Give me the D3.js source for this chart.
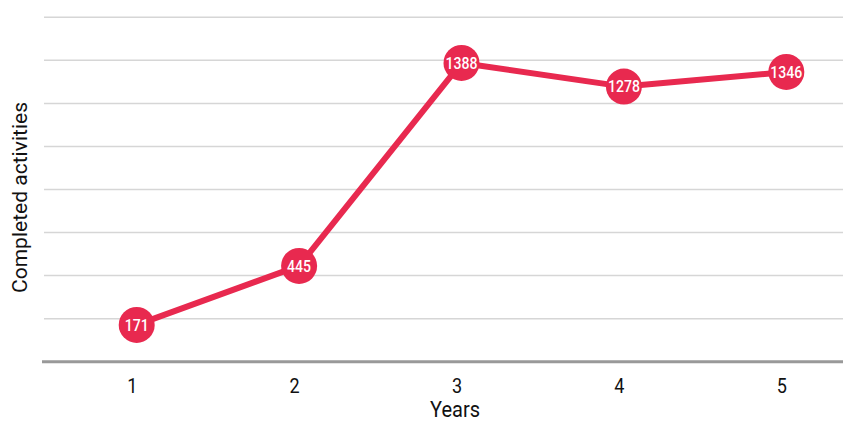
<!DOCTYPE html>
<html>
<head>
<meta charset="utf-8">
<script src="https://cdn.jsdelivr.net/npm/d3@7"></script>
<style>
  body { margin: 0; background: #fff; }
  text { font-family: Roboto, "Liberation Sans", sans-serif; }
</style>
</head>
<body>
<div id="chart"></div>
<script>
var years = [1, 2, 3, 4, 5];
var activities = [171, 445, 1388, 1278, 1346];
var gridTicks = [0, 200, 400, 600, 800, 1000, 1200, 1400, 1600];

var width = 843, height = 423;
var red = "#e8294f";

var svg = d3.select("#chart").append("svg")
    .attr("width", width)
    .attr("height", height);

var x = d3.scaleLinear()
    .domain([1, 5])
    .range([136.7, 786.3]);

var y = d3.scaleLinear()
    .domain([0, 1600])
    .range([361.7, 17.3]);

// gridlines
svg.append("g")
    .selectAll("line")
    .data(gridTicks.slice(1))
    .enter().append("line")
    .attr("x1", 44)
    .attr("x2", width)
    .attr("y1", function(d) { return y(d); })
    .attr("y2", function(d) { return y(d); })
    .attr("stroke", "#d6d6d6")
    .attr("stroke-width", 1.5);

// baseline
svg.append("line")
    .attr("x1", 42)
    .attr("x2", width)
    .attr("y1", y(0))
    .attr("y2", y(0))
    .attr("stroke", "#999")
    .attr("stroke-width", 3);

// x axis labels (slightly narrow, like a condensed face)
var xAxis = svg.append("g")
    .attr("transform", "translate(0," + y(0) + ")")
    .call(d3.axisBottom(x).tickValues(years).tickSize(0).tickPadding(0).tickFormat(d3.format("d")));
xAxis.select(".domain").remove();
xAxis.selectAll(".tick text")
    .attr("x", 0)
    .attr("y", 0)
    .attr("dy", 0)
    .attr("transform", "translate(-5,31) scale(0.86,1)")
    .attr("fill", "#111")
    .style("font-family", "Roboto, sans-serif")
    .style("font-size", "21px");

svg.append("text")
    .attr("x", 455)
    .attr("y", 417)
    .attr("text-anchor", "middle")
    .attr("textLength", 50)
    .attr("lengthAdjust", "spacingAndGlyphs")
    .attr("fill", "#111")
    .style("font-size", "22px")
    .text("Years");

svg.append("text")
    .attr("transform", "translate(27,197.5) rotate(-90)")
    .attr("x", -95.5)
    .attr("textLength", 191)
    .attr("lengthAdjust", "spacingAndGlyphs")
    .attr("fill", "#111")
    .style("font-size", "20px")
    .text("Completed activities");

// line
var line = d3.line()
    .x(function(d, i) { return x(years[i]); })
    .y(function(d) { return y(d); });

svg.append("path")
    .datum(activities)
    .attr("d", line)
    .attr("fill", "none")
    .attr("stroke", red)
    .attr("stroke-width", 6)
    .attr("stroke-linejoin", "round");

var pts = svg.append("g")
    .selectAll("g")
    .data(activities)
    .enter().append("g")
    .attr("transform", function(d, i) { return "translate(" + x(years[i]) + "," + y(d) + ")"; });

pts.append("circle")
    .attr("r", 18)
    .attr("fill", red);

pts.append("text")
    .attr("text-anchor", "middle")
    .attr("dy", "0.36em")
    .attr("transform", "scale(0.88,1)")
    .attr("fill", "#fff")
    .style("font-size", "16px")
    .style("font-weight", 500)
    .text(function(d) { return d; });
</script>
</body>
</html>
